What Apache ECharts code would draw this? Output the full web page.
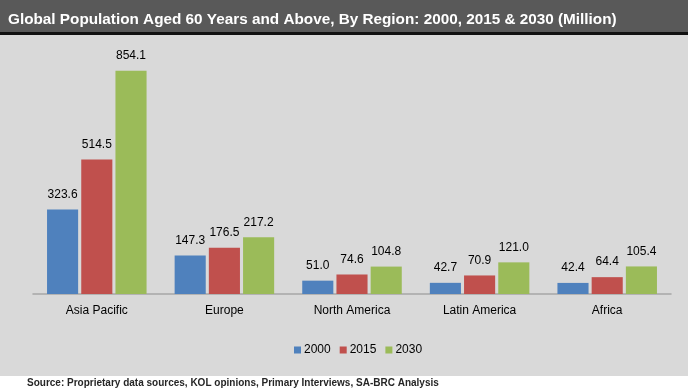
<!DOCTYPE html>
<html><head><meta charset="utf-8">
<script src="https://cdn.jsdelivr.net/npm/echarts@6/dist/echarts.min.js"></script>
<style>html,body{margin:0;padding:0;background:#fff}#c{width:688px;height:391px}</style>
</head><body><div id="c"></div>
<script>
const categories = ['Asia Pacific','Europe','North America','Latin America','Africa'];
const seriesNames = ['2000','2015','2030'];
const v2000 = [323.6,147.3,51.0,42.7,42.4];
const v2015 = [514.5,176.5,74.6,70.9,64.4];
const v2030 = [854.1,217.2,104.8,121.0,105.4];
const colors = ['#4f81bd','#c0504d','#9bbb59'];
const values = [v2000,v2015,v2030];
const font = "'Liberation Sans',Arial,sans-serif";
const chart = echarts.init(document.getElementById('c'));
chart.setOption({
  animation:false,
  backgroundColor:'#ffffff',
  graphic:[
    {type:'rect',shape:{x:0,y:0,width:688,height:32},style:{fill:'#595959'},z:-10},
    {type:'rect',shape:{x:0,y:32,width:688,height:3},style:{fill:'#111111'},z:-10},
    {type:'rect',shape:{x:0,y:35,width:688,height:341},style:{fill:'#d9d9d9'},z:-10},
    {type:'text',left:27,top:378,style:{text:'Source: Proprietary data sources, KOL opinions, Primary Interviews, SA-BRC Analysis',fill:'#262626',font:"bold 10px "+font}}
  ],
  title:{text:'Global Population Aged 60 Years and Above, By Region: 2000, 2015 & 2030 (Million)',left:3,top:7,
    textStyle:{color:'#ffffff',fontSize:15.3,fontWeight:'bold',fontFamily:font}},
  legend:{bottom:30,left:289,itemWidth:7,itemHeight:7,itemGap:9,icon:'rect',
    textStyle:{fontSize:12,color:'#000',fontFamily:font,padding:[0,0,0,-2]},data:seriesNames},
  grid:{left:33,right:17,top:32.5,bottom:97,containLabel:false},
  xAxis:{type:'category',data:categories,axisTick:{show:false},
    axisLine:{lineStyle:{color:'#a6a6a6',width:1.5}},
    axisLabel:{fontSize:12,color:'#000',fontFamily:font,margin:11}},
  yAxis:{type:'value',min:0,max:1000,show:false,splitLine:{show:false}},
  series:values.map((d,i)=>({name:seriesNames[i],type:'bar',data:d,barGap:'10%',barCategoryGap:'22%',
    itemStyle:{color:colors[i]},
    label:{show:true,position:'top',distance:9,fontSize:12,color:'#000',fontFamily:font,
      formatter:p=>p.value.toFixed(1)}}))
});
</script></body></html>
